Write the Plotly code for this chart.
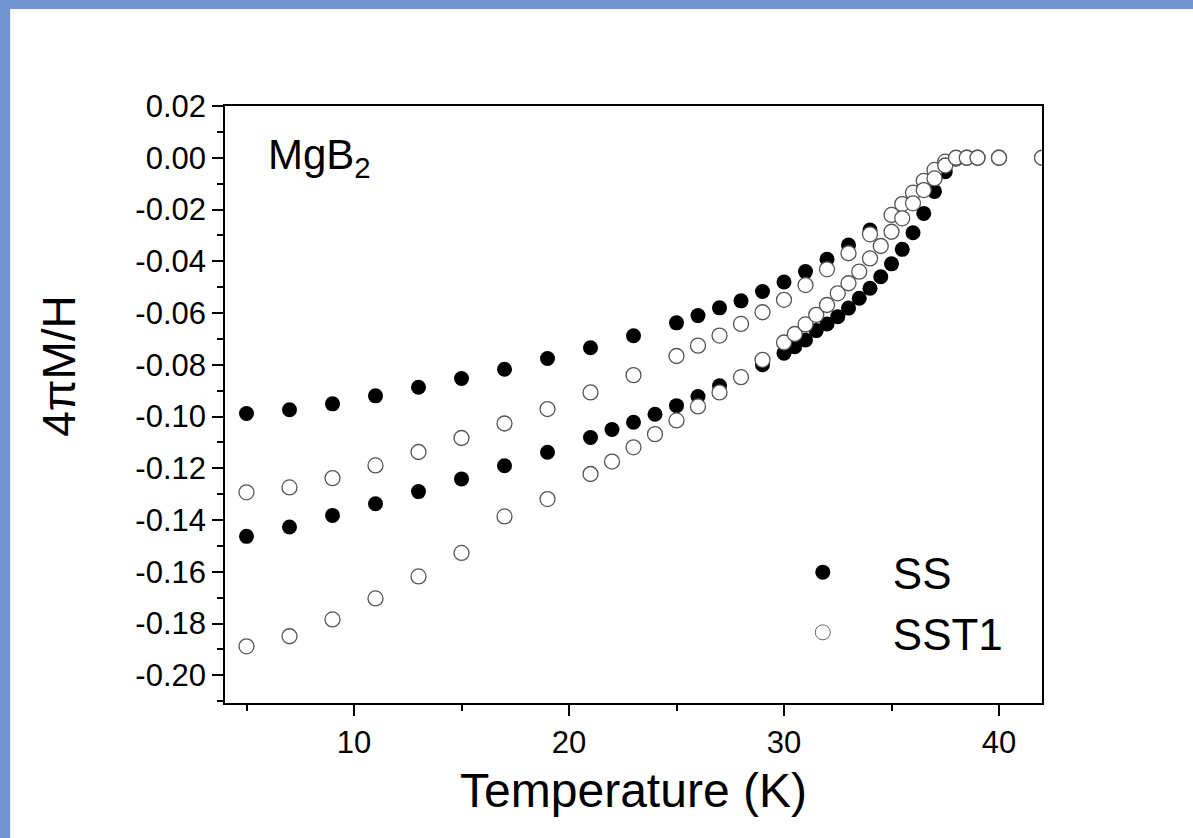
import plotly.graph_objects as go

# ---- data ----
ss_upper_T = [5, 7, 9, 11, 13, 15, 17, 19, 21, 23, 25, 26, 27, 28, 29, 30, 31, 32, 33, 34, 35, 36, 37, 38, 39, 40]
ss_upper_M = [-0.0988, -0.0974, -0.0951, -0.0920, -0.0887, -0.0853, -0.0817, -0.0776, -0.0734, -0.0688,
              -0.0638, -0.0610, -0.0580, -0.0553, -0.0517, -0.0480, -0.0440, -0.0392, -0.0337, -0.0279,
              -0.0221, -0.0135, -0.0050, 0.0, 0.0, 0.0]
ss_lower_T = [5, 7, 9, 11, 13, 15, 17, 19, 21, 22, 23, 24, 25, 26, 27, 28, 29, 30, 30.5, 31, 31.5, 32,
              32.5, 33, 33.5, 34, 34.5, 35, 35.5, 36, 36.5, 37, 37.5, 38, 38.5, 39, 40]
ss_lower_M = [-0.1463, -0.1427, -0.1382, -0.1337, -0.1290, -0.1241, -0.1190, -0.1138, -0.1081, -0.1050,
              -0.1022, -0.0991, -0.0958, -0.0923, -0.0881, -0.0848, -0.0800, -0.0755, -0.0730, -0.0704,
              -0.0668, -0.0642, -0.0614, -0.0581, -0.0543, -0.0504, -0.0460, -0.0410, -0.0354, -0.0290,
              -0.0215, -0.0130, -0.0054, -0.0005, 0.0, 0.0, 0.0]

sst1_upper_T = [5, 7, 9, 11, 13, 15, 17, 19, 21, 23, 25, 26, 27, 28, 29, 30, 31, 32, 33, 34, 35, 35.5,
                36, 36.5, 37, 37.5, 38, 38.5, 39, 40, 42]
sst1_upper_M = [-0.1293, -0.1274, -0.1238, -0.1189, -0.1137, -0.1083, -0.1027, -0.0971, -0.0907, -0.0840,
                -0.0766, -0.0726, -0.0687, -0.0642, -0.0597, -0.0549, -0.0492, -0.0431, -0.0369, -0.0296,
                -0.0221, -0.0179, -0.0135, -0.0089, -0.0047, -0.0015, -0.0003, 0.0, 0.0, 0.0, 0.0]
sst1_lower_T = [5, 7, 9, 11, 13, 15, 17, 19, 21, 22, 23, 24, 25, 26, 27, 28, 29, 30, 30.5, 31, 31.5, 32,
                32.5, 33, 33.5, 34, 34.5, 35, 35.5, 36, 36.5, 37, 37.5, 38, 38.5, 39, 40]
sst1_lower_M = [-0.1888, -0.1849, -0.1784, -0.1703, -0.1618, -0.1527, -0.1386, -0.1319, -0.1222, -0.1174,
                -0.1119, -0.1068, -0.1015, -0.0961, -0.0907, -0.0848, -0.0781, -0.0714, -0.0681, -0.0644,
                -0.0607, -0.0569, -0.0524, -0.0485, -0.0440, -0.0389, -0.0341, -0.0286, -0.0234, -0.0176,
                -0.0125, -0.0080, -0.0030, 0.0, 0.0, 0.0, 0.0]

x_tickvals = [10, 20, 30, 40]
x_ticktext = ["10", "20", "30", "40"]
y_tickvals = [0.02, 0.00, -0.02, -0.04, -0.06, -0.08, -0.10, -0.12, -0.14, -0.16, -0.18, -0.20]
y_ticktext = ["0.02", "0.00", "-0.02", "-0.04", "-0.06", "-0.08", "-0.10", "-0.12", "-0.14",
              "-0.16", "-0.18", "-0.20"]

FONT = "Liberation Sans, Arial, sans-serif"

fig = go.Figure()

fig.add_trace(go.Scatter(
    x=ss_upper_T + ss_lower_T, y=ss_upper_M + ss_lower_M, mode="markers",
    marker=dict(size=15, color="black", line=dict(width=0)),
    showlegend=False, name="SS"))
fig.add_trace(go.Scatter(
    x=sst1_upper_T + sst1_lower_T, y=sst1_upper_M + sst1_lower_M, mode="markers",
    marker=dict(size=15, color="white", line=dict(width=1.3, color="#555555")),
    showlegend=False, name="SST1"))

# legend-only entries
fig.add_trace(go.Scatter(x=[None], y=[None], mode="markers", name="SS",
                         marker=dict(size=15, color="black")))
fig.add_trace(go.Scatter(x=[None], y=[None], mode="markers", name="SST1",
                         marker=dict(size=15, color="white", line=dict(width=1, color="#666666"))))

# white slide area over the blue background
fig.add_shape(type="rect", xref="paper", yref="paper",
              x0=-0.263, x1=1.2, y0=-0.25, y1=1.1625,
              fillcolor="white", line=dict(width=0), layer="below")

fig.add_annotation(text="MgB<sub>2</sub>", xref="paper", yref="paper", x=0.05, y=0.962,
                   xanchor="left", yanchor="top", showarrow=False,
                   font=dict(size=42, color="black", family=FONT))

# y-axis title (placed as an annotation so it can sit slightly above centre like the original)
fig.add_annotation(text="4πM/H", xref="paper", yref="paper", x=-0.203, y=0.565,
                   xanchor="center", yanchor="middle", textangle=-90, showarrow=False,
                   font=dict(size=46, color="black", family=FONT))

axis_common = dict(showline=True, linecolor="black", linewidth=1.6, mirror=True,
                   ticks="outside", tickwidth=1.6, tickcolor="black", ticklen=11,
                   showgrid=False, zeroline=False,
                   tickfont=dict(size=31, color="black", family=FONT))

fig.update_xaxes(range=[4, 42], tickmode="array", tickvals=x_tickvals, ticktext=x_ticktext,
                 minor=dict(dtick=5, tick0=0, ticks="outside", ticklen=6, tickwidth=1.6,
                            tickcolor="black", showgrid=False),
                 title=dict(text="Temperature (K)", font=dict(size=48, color="black", family=FONT),
                            standoff=14),
                 **axis_common)
fig.update_yaxes(range=[-0.2107, 0.02], tickmode="array", tickvals=y_tickvals, ticktext=y_ticktext,
                 minor=dict(dtick=0.01, tick0=0, ticks="outside", ticklen=6, tickwidth=1.6,
                            tickcolor="black", showgrid=False),
                 **axis_common)

fig.update_layout(
    width=1193, height=838,
    margin=dict(l=225, r=151, t=106, b=135),
    paper_bgcolor="#6e93cf", plot_bgcolor="white",
    font=dict(family=FONT, color="black"),
    legend=dict(x=0.646, y=0.278, xanchor="left", yanchor="top",
                bgcolor="rgba(0,0,0,0)", borderwidth=0,
                font=dict(size=44, color="black", family=FONT),
                itemwidth=130, tracegroupgap=0),
)

fig.write_html("out.html")
